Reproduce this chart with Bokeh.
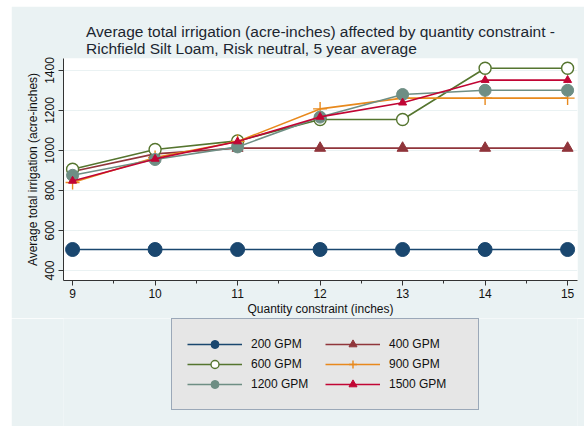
from bokeh.plotting import figure
from bokeh.layouts import column
from bokeh.models import Legend, LegendItem, FixedTicker, Range1d
from bokeh.embed import file_html
from bokeh.resources import INLINE

# Quantity constraint (inches)
constraint = [9, 10, 11, 12, 13, 14, 15]

# Average total irrigation (acre-inches) by pump capacity
gpm_200 = [505, 505, 505, 505, 505, 505, 505]
gpm_400 = [895, 983, 1012, 1012, 1012, 1012, 1012]
gpm_600 = [906, 1005, 1048, 1155, 1155, 1411, 1411]
gpm_900 = [840, 965, 1045, 1208, 1262, 1262, 1262]
gpm_1200 = [876, 955, 1018, 1167, 1280, 1301, 1301]
gpm_1500 = [848, 958, 1045, 1168, 1239, 1352, 1352]

series_labels = ["200 GPM", "400 GPM", "600 GPM", "900 GPM", "1200 GPM", "1500 GPM"]
y_ticks = [400, 600, 800, 1000, 1200, 1400]
x_minor = [9.5, 10.5, 11.5, 12.5, 13.5, 14.5]

FONT = "Liberation Sans"
BG = "#eaf2f3"
TXT = "#1c2630"

p = figure(
    width=573, height=312,
    output_backend="svg", toolbar_location=None,
    x_range=Range1d(8.89, 15.12), y_range=Range1d(350, 1460),
    background_fill_color="white", border_fill_color=BG,
    min_border_left=52, min_border_right=7, min_border_top=52,
    min_border_bottom=38,
)
p.outline_line_color = None

p.title.text = ("Average total irrigation (acre-inches) affected by quantity constraint -\n"
                "Richfield Silt Loam, Risk neutral, 5 year average")
p.title.align = "center"
p.title.text_font = FONT
p.title.text_font_size = "15.5px"
p.title.text_font_style = "normal"
p.title.text_color = TXT
p.title.standoff = 3

# axes
p.xaxis.ticker = FixedTicker(ticks=constraint, minor_ticks=x_minor)
p.yaxis.ticker = FixedTicker(ticks=y_ticks)
p.yaxis.major_label_orientation = "vertical"
p.xaxis.axis_label = "Quantity constraint (inches)"
p.yaxis.axis_label = "Average total irrigation (acre-inches)"
for ax in (p.xaxis, p.yaxis):
    ax.axis_line_color = "#333333"
    ax.major_tick_line_color = "#333333"
    ax.minor_tick_line_color = "#333333"
    ax.major_tick_out = 5
    ax.major_tick_in = 0
    ax.minor_tick_out = 3
    ax.minor_tick_in = 0
    ax.major_label_text_font = FONT
    ax.major_label_text_font_size = "12px"
    ax.major_label_text_color = "#111111"
    ax.axis_label_text_font = FONT
    ax.axis_label_text_font_size = "12px"
    ax.axis_label_text_font_style = "normal"
    ax.axis_label_text_color = "#111111"
p.xaxis.major_label_standoff = 3
p.xaxis.axis_label_standoff = 1
p.yaxis.major_label_standoff = 5
p.yaxis.axis_label_standoff = 2
p.yaxis.minor_tick_line_color = None

p.xgrid.grid_line_color = None
p.ygrid.ticker = FixedTicker(ticks=y_ticks)
p.ygrid.grid_line_color = BG
p.ygrid.grid_line_width = 1.2

styles = [
    (gpm_200, "#1a476f", dict(marker="circle", size=14)),
    (gpm_400, "#90353b", dict(marker="triangle", size=11)),
    (gpm_600, "#55752f", dict(marker="circle", size=12, fill_color="white", line_width=1.4)),
    (gpm_900, "#e8891c", dict(marker="cross", size=14, line_width=1.4)),
    (gpm_1200, "#6e8e84", dict(marker="circle", size=12)),
    (gpm_1500, "#c10534", dict(marker="triangle", size=8)),
]

# legend strip underneath the chart; its ranges keep the series out of view,
# so only the legend keys are drawn there
key = figure(
    width=573, height=108,
    output_backend="svg", toolbar_location=None,
    x_axis_type=None, y_axis_type=None,
    x_range=Range1d(0, 1), y_range=Range1d(0, 1),
    background_fill_color=BG, border_fill_color=BG,
    min_border=0,
)
key.outline_line_color = None
key.grid.visible = False

items = []
for (vals, color, mk), label in zip(styles, series_labels):
    kw = dict(mk)
    kw.setdefault("fill_color", color)
    p.line(constraint, vals, line_color=color, line_width=1.6)
    p.scatter(constraint, vals, line_color=color, **kw)
    ln = key.line(constraint, vals, line_color=color, line_width=1.6)
    sc = key.scatter(constraint, vals, line_color=color, **kw)
    items.append(LegendItem(label=label, renderers=[ln, sc]))

# two columns: left column 200/600/1200, right column 400/900/1500
ordered = [items[0], items[2], items[4], items[1], items[3], items[5]]
legend = Legend(
    items=ordered, ncols=2, orientation="vertical",
    location=(108, 16),
    label_text_font=FONT, label_text_font_size="12px", label_text_color="#111111",
    glyph_width=55, glyph_height=20, label_height=20, label_width=74,
    label_standoff=9, spacing=0, padding=15, margin=0,
    background_fill_color="#e6e6e6", background_fill_alpha=1.0,
    border_line_color="#50698a", border_line_width=1,
)
key.add_layout(legend, "center")

page = column(p, key, spacing=0)
page.margin = (6, 0, 0, 11)

open("out.html", "w").write(file_html(page, INLINE))
